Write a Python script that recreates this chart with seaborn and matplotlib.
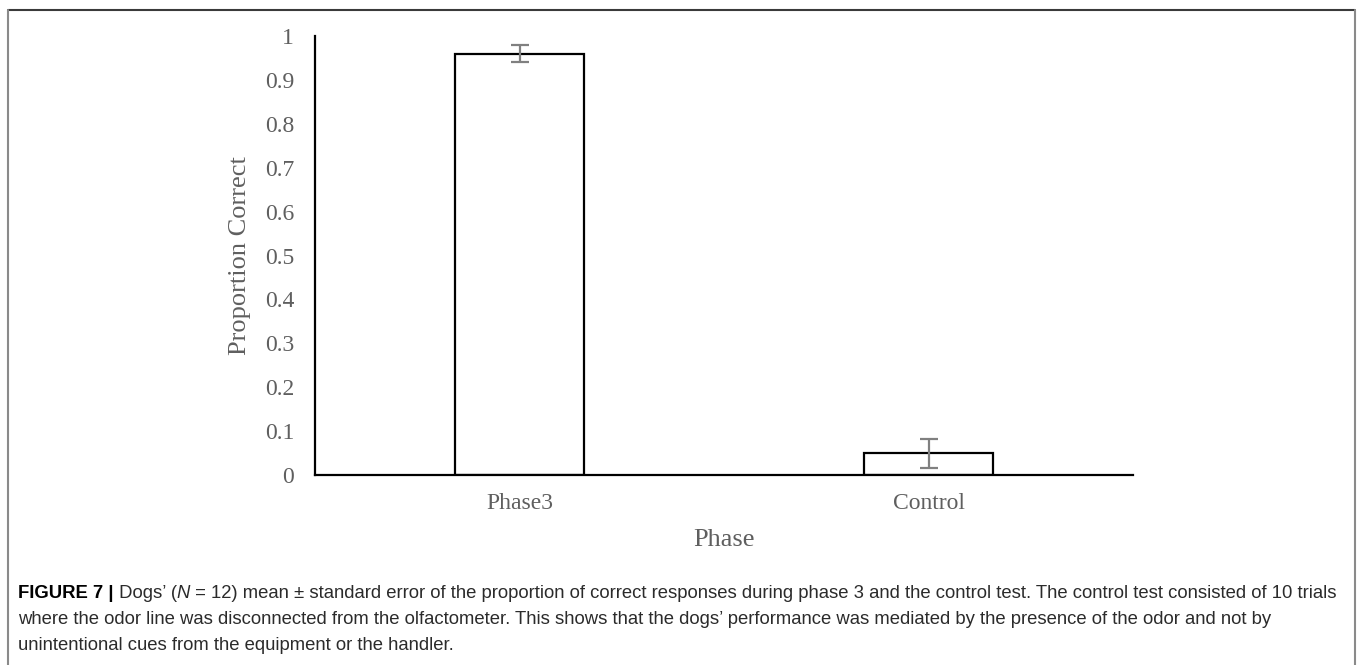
import matplotlib
matplotlib.use("Agg")
import matplotlib.pyplot as plt
import seaborn as sns
import pandas as pd
from matplotlib.lines import Line2D

# data
phases = ["Phase3", "Control"]
means = [0.96, 0.05]
sems = [0.02, 0.033]
y_ticks = [0, 0.1, 0.2, 0.3, 0.4, 0.5, 0.6, 0.7, 0.8, 0.9, 1.0]
y_tick_labels = ["0", "0.1", "0.2", "0.3", "0.4", "0.5", "0.6", "0.7", "0.8", "0.9", "1"]
caption_bold = "FIGURE 7 |"
caption_first = [(" Dogs\u2019 (", "normal"), ("N", "italic"),
                 (" = 12) mean \u00b1 standard error of the proportion of correct responses during phase 3 and the control test. The control test consisted of 10 trials", "normal")]
caption_lines = [
    "where the odor line was disconnected from the olfactometer. This shows that the dogs\u2019 performance was mediated by the presence of the odor and not by",
    "unintentional cues from the equipment or the handler.",
]

sns.set_theme(style="white")
plt.rcParams["font.family"] = ["Liberation Serif", "DejaVu Serif"]

W, H = 1357, 665
fig = plt.figure(figsize=(W / 100, H / 100), dpi=100)
ax = fig.add_axes([315 / W, 1 - 475 / H, (1133 - 315) / W, (475 - 36) / H])

df = pd.DataFrame({"Phase": phases, "Proportion": means})
sns.barplot(data=df, x="Phase", y="Proportion", ax=ax, color="white",
            edgecolor="black", linewidth=1.6, width=0.315, errorbar=None)
ax.errorbar(range(len(phases)), means, yerr=sems, fmt="none", ecolor="#808080",
            elinewidth=1.6, capsize=6.5, capthick=1.6)

ax.set_ylim(0, 1)
ax.set_xlim(-0.5, 1.5)
ax.set_yticks(y_ticks)
ax.set_yticklabels(y_tick_labels)
gray = "#5f5f5f"
ax.tick_params(axis="y", length=0, pad=15, labelsize=17, labelcolor=gray)
ax.tick_params(axis="x", length=0, pad=13, labelsize=17, labelcolor=gray)
for s in ["top", "right"]:
    ax.spines[s].set_visible(False)
for s in ["left", "bottom"]:
    ax.spines[s].set_color("black")
    ax.spines[s].set_linewidth(1.6)
ax.set_ylabel("Proportion Correct", fontsize=19, color=gray, labelpad=10)
ax.set_xlabel("Phase", fontsize=19, color=gray, labelpad=11)

# border box
bc_top = "#3a3a3a"
bc_side = "#8a8a8a"
x0, x1, y0 = 8 / W, 1355 / W, 1 - 10 / H
fig.add_artist(Line2D([x0, x1], [y0, y0], transform=fig.transFigure, color=bc_top, lw=1.5))
fig.add_artist(Line2D([x0, x0], [y0, -0.01], transform=fig.transFigure, color=bc_side, lw=1.5))
fig.add_artist(Line2D([x1, x1], [y0, -0.01], transform=fig.transFigure, color=bc_side, lw=1.5))

# caption
cap_font = ["Liberation Sans", "DejaVu Sans"]
fs = 13.3
tcol = "#2b2b2b"
renderer = fig.canvas.get_renderer()
lx = 18 / W
ly = [1 - 594 / H, 1 - 620 / H, 1 - 646 / H]
t = fig.text(lx, ly[0], caption_bold, fontsize=fs, fontweight="bold", family=cap_font,
             color="black", va="center", ha="left")
xpos = t.get_window_extent(renderer).x1 / W
for txt, st in caption_first:
    t2 = fig.text(xpos, ly[0], txt, fontsize=fs, style=st, family=cap_font, color=tcol,
                  va="center", ha="left")
    xpos = t2.get_window_extent(renderer).x1 / W
for i, line in enumerate(caption_lines):
    fig.text(lx, ly[i + 1], line, fontsize=fs, family=cap_font, color=tcol, va="center", ha="left")

fig.savefig("out.png", dpi=100, facecolor="white")
